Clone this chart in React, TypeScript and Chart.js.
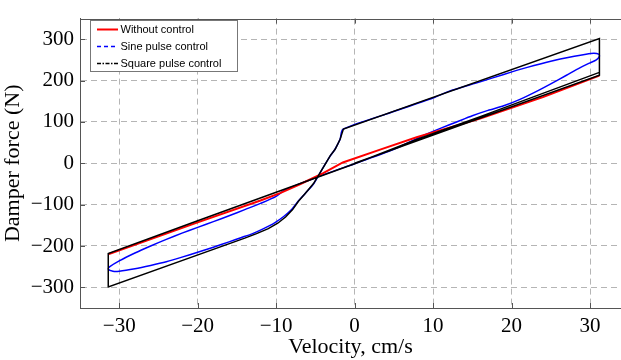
import React, { useEffect, useRef } from "react";
import { Chart, registerables } from "chart.js";
Chart.register(...registerables);

const xTicks = [-30, -20, -10, 0, 10, 20, 30];
const yTicks = [-300, -200, -100, 0, 100, 200, 300];
const legendLabels = ["Without control", "Sine pulse control", "Square pulse control"];
const xTitle = "Velocity, cm/s";
const yTitle = "Damper force (N)";

// Without control (red)
const withoutX = [-31.4, -20, -12, -9.5, -6.9, -4, -1.5, 3.25, 7.9, 16, 24, 31.2];
const withoutY = [-220, -143, -90, -72, -50, -24, 2, 33, 63, 108, 160, 212];

// Sine pulse control (blue)
const sineX = [0, 5, 9, 11, 13, 15, 17, 19, 21, 23, 25, 27, 28.7, 30, 30.8, 31.2, 31.1, 30.5, 29.5, 28, 25, 22, 19, 16, 12, 10, 4, -1.5, -1.85, -2.5, -3.1, -4, -5.2, -6.3, -7.2, -8, -9, -10.2, -11.6, -13, -14.5, -16, -18, -20, -22, -24, -26, -28, -30, -30.8, -31.4, -31.2, -30, -28, -26, -24, -22, -20, -18, -16, -14, -12, -10, -9, -5, 0];
const sineY = [-1, 34, 69, 85, 100, 115, 128, 139, 154, 172, 192, 213, 231, 243, 250, 259, 264, 266, 264, 259, 247, 232, 215, 197, 174, 158, 119, 82, 58, 34, 18, -10, -49, -73, -92, -111, -128, -144, -158, -170, -180, -190, -203, -215, -227, -238, -247, -255, -261, -261, -256, -250, -236, -217, -200, -184, -169, -155, -141, -127, -112, -97, -80, -66, -35, -1];

// Square pulse control (black)
const squareX = [0, 31.2, 31.2, -1.43, -1.85, -2.48, -3.12, -3.97, -5.24, -6.3, -7.16, -7.9, -8.8, -9.8, -11, -12.5, -14, -31.4, -31.4, -20, -10, 0, 8, 16, 31.2];
const squareY = [0, 213, 302, 83, 58, 34, 18, -9.5, -49, -73, -92, -112, -130, -145, -158, -170, -181, -299, -218, -139, -70, -1, 58, 113, 220];

const pts = (xs: number[], ys: number[]) => xs.map((x, i) => ({ x, y: ys[i] }));
const fmt = (v: number) => String(v).replace("-", "\u2212");

const decor = {
  id: "decor",
  afterDraw(chart: any) {
    const { ctx, chartArea: a, scales } = chart;
    ctx.save();
    ctx.strokeStyle = "#555";
    ctx.lineWidth = 1;
    ctx.setLineDash([]);
    ctx.beginPath();
    ctx.moveTo(a.left, Math.round(a.top) + 0.5);
    ctx.lineTo(a.right, Math.round(a.top) + 0.5);
    for (const v of xTicks) {
      const px = Math.round(scales.x.getPixelForValue(v)) + 0.5;
      ctx.moveTo(px, a.bottom);
      ctx.lineTo(px, a.bottom - 5);
      ctx.moveTo(px, a.top);
      ctx.lineTo(px, a.top + 5);
    }
    for (const v of yTicks) {
      const py = Math.round(scales.y.getPixelForValue(v)) + 0.5;
      ctx.moveTo(a.left, py);
      ctx.lineTo(a.left + 5, py);
    }
    ctx.stroke();

    // legend
    const lx = 90.5, ly = 20.5, lw = 147, lh = 51;
    ctx.fillStyle = "#fff";
    ctx.fillRect(lx, ly, lw, lh);
    ctx.strokeStyle = "#777";
    ctx.strokeRect(lx, ly, lw, lh);
    const rows = [
      { c: "#ff0000", w: 2, d: [] as number[] },
      { c: "#0000ff", w: 1.5, d: [4, 3] },
      { c: "#000000", w: 1.3, d: [4, 1.5, 1.5, 1.5] },
    ];
    ctx.font = "11px 'Liberation Sans', Arial, sans-serif";
    ctx.textBaseline = "middle";
    rows.forEach((r, i) => {
      const y = 29.5 + i * 17;
      ctx.strokeStyle = r.c;
      ctx.lineWidth = r.w;
      ctx.setLineDash(r.d);
      ctx.beginPath();
      ctx.moveTo(97, y);
      ctx.lineTo(118, y);
      ctx.stroke();
      ctx.fillStyle = "#000";
      ctx.fillText(legendLabels[i], 120.5, y);
    });
    ctx.restore();
  },
};

export default function App() {
  const ref = useRef<HTMLCanvasElement>(null);
  useEffect(() => {
    const serif = "'Liberation Serif', 'Times New Roman', serif";
    const chart = new Chart(ref.current!, {
      type: "scatter",
      data: {
        datasets: [
          {
            label: legendLabels[2],
            data: pts(squareX, squareY),
            showLine: true,
            borderColor: "#000",
            borderWidth: 1.5,
            pointRadius: 0,
            tension: 0,
            order: 0,
          },
          {
            label: legendLabels[0],
            data: pts(withoutX, withoutY),
            showLine: true,
            borderColor: "#ff0000",
            borderWidth: 2,
            pointRadius: 0,
            tension: 0,
            order: 1,
          },
          {
            label: legendLabels[1],
            data: pts(sineX, sineY),
            showLine: true,
            borderColor: "#0000ff",
            borderWidth: 1.5,
            pointRadius: 0,
            tension: 0.25,
            order: 2,
          },
        ],
      },
      options: {
        animation: false,
        responsive: false,
        layout: { padding: { top: 13, right: 0, left: 0, bottom: 0 } },
        plugins: { legend: { display: false }, tooltip: { enabled: false } },
        scales: {
          x: {
            type: "linear",
            min: -35,
            max: 33.95,
            afterBuildTicks: (s: any) => {
              s.ticks = xTicks.map((value) => ({ value }));
            },
            afterFit: (s: any) => {
              s.height = 52;
            },
            grid: { color: "#b5b5b5", drawTicks: false },
            border: { display: true, color: "#555", width: 1, dash: [6, 4] },
            ticks: {
              color: "#000",
              padding: 6,
              maxRotation: 0,
              font: { family: serif, size: 21 },
              callback: (v: any) => fmt(Number(v)),
            },
            title: {
              display: true,
              text: xTitle,
              color: "#000",
              padding: { top: 0, bottom: 0 },
              font: { family: serif, size: 22 },
            },
          },
          y: {
            type: "linear",
            min: -350,
            max: 350,
            afterBuildTicks: (s: any) => {
              s.ticks = yTicks.map((value) => ({ value }));
            },
            afterFit: (s: any) => {
              s.width = 80;
            },
            grid: { color: "#b5b5b5", drawTicks: false },
            border: { display: true, color: "#555", width: 1, dash: [6, 4] },
            ticks: {
              color: "#000",
              padding: 6,
              font: { family: serif, size: 21 },
              callback: (v: any) => fmt(Number(v)),
            },
            title: {
              display: true,
              text: yTitle,
              color: "#000",
              padding: { top: 0, bottom: 2 },
              font: { family: serif, size: 22 },
            },
          },
        },
      },
      plugins: [decor],
    });
    return () => chart.destroy();
  }, []);
  return (
    <div style={{ position: "fixed", left: 0, top: 0, width: 621, height: 360, background: "#fff" }}>
      <canvas ref={ref} width={621} height={360} style={{ display: "block" }} />
    </div>
  );
}
